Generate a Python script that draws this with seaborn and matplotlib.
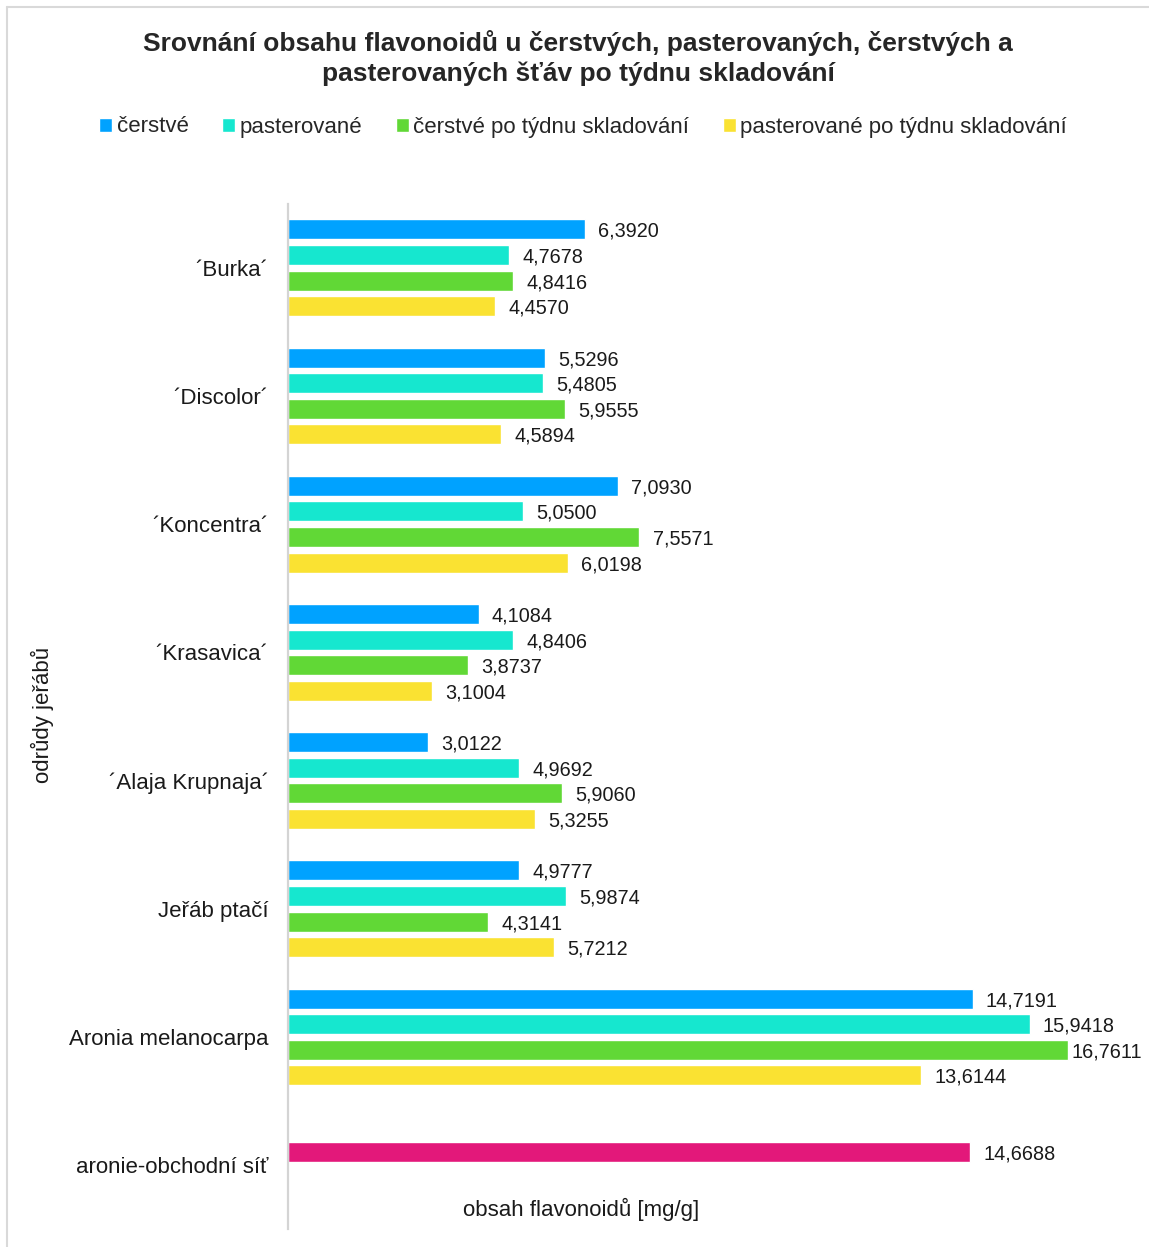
import seaborn as sns
import pandas as pd
import matplotlib.pyplot as plt
from matplotlib.lines import Line2D

# data
odrudy = ["´Burka´", "´Discolor´", "´Koncentra´", "´Krasavica´", "´Alaja Krupnaja´",
          "Jeřáb ptačí", "Aronia melanocarpa", "aronie-obchodní síť"]
serie = ["čerstvé", "pasterované", "čerstvé po týdnu skladování",
         "pasterované po týdnu skladování"]
cerstve = [6.3920, 5.5296, 7.0930, 4.1084, 3.0122, 4.9777, 14.7191]
pasterovane = [4.7678, 5.4805, 5.0500, 4.8406, 4.9692, 5.9874, 15.9418]
cerstve_tyden = [4.8416, 5.9555, 7.5571, 3.8737, 5.9060, 4.3141, 16.7611]
pasterovane_tyden = [4.4570, 4.5894, 6.0198, 3.1004, 5.3255, 5.7212, 13.6144]
obchod_sit = 14.6688

barvy = ["#00A2FF", "#16E7CF", "#61D836", "#FAE232"]
barva_sit = "#E3187A"

rows = []
for s, vals in zip(serie, [cerstve, pasterovane, cerstve_tyden, pasterovane_tyden]):
    for o, v in zip(odrudy[:7], vals):
        rows.append({"odruda": o, "serie": s, "hodnota": v})
# trzni vzorek sedi ve druhem slotu skupiny
rows.append({"odruda": odrudy[7], "serie": serie[1], "hodnota": obchod_sit})
df = pd.DataFrame(rows)

sns.set_theme(style="white")
plt.rcParams["font.family"] = ["Liberation Sans", "DejaVu Sans"]

W, H = 1149, 1247
fig = plt.figure(figsize=(W / 100, H / 100), dpi=100)
ax = fig.add_axes([287.5 / W, 1 - 1229.3 / H, (1125.5 - 287.5) / W, (1229.3 - 203.7) / H])

sns.barplot(data=df, y="odruda", x="hodnota", hue="serie", order=odrudy,
            hue_order=serie, palette=barvy, saturation=1, orient="h", width=0.8,
            gap=0.22, errorbar=None, ax=ax)

# magenta pro obchodni sit
for p in ax.containers[1].patches:
    if p.get_y() > 6.5:
        p.set_facecolor(barva_sit)

nejvetsi = max(cerstve_tyden)
for c in ax.containers:
    txts = ax.bar_label(c, labels=[f"{p.get_width():.4f}".replace(".", ",") for p in c.patches],
                        padding=9.5, fontsize=14.3, color="#1a1a1a")
    for t, p in zip(txts, c.patches):
        t.set_va("center_baseline")
        if p.get_width() == nejvetsi:
            # u nejdelsiho pruhu je popisek hned u konce
            t.set_position((2.5, 0))

ax.set_xlim(0, 18)
ax.set_xticks([])
ax.tick_params(axis="y", length=0, pad=13.5, labelsize=16, labelcolor="#1a1a1a")
for sp in ["top", "right", "bottom"]:
    ax.spines[sp].set_visible(False)
ax.spines["left"].set_color("#d4d4d4")
ax.spines["left"].set_linewidth(1.6)

ax.set_ylabel("")
ax.set_xlabel("obsah flavonoidů [mg/g]", fontsize=16, color="#1a1a1a")
ax.xaxis.set_label_coords(0.35, 0.031)
fig.text(42 / W, 1 - 715 / H, "odrůdy jeřábů", rotation=90, ha="center", va="center",
         fontsize=16, color="#1a1a1a")

handles, labels = ax.get_legend_handles_labels()
ax.get_legend().remove()
fig.legend(handles, labels, loc="center", bbox_to_anchor=(583 / W, 1 - 127 / H), ncol=4,
           frameon=False, fontsize=16, handlelength=0.6, handleheight=0.6,
           handletextpad=0.2, columnspacing=1.5, borderpad=0)

fig.text(578 / W, 1 - 58 / H,
         "Srovnání obsahu flavonoidů u čerstvých, pasterovaných, čerstvých a\n"
         "pasterovaných šťáv po týdnu skladování",
         ha="center", va="center", fontsize=19, fontweight="bold", linespacing=1.25)

# ramecek
fig.add_artist(Line2D([7 / W, 1], [1 - 7 / H, 1 - 7 / H], color="#d9d9d9", lw=1.5))
fig.add_artist(Line2D([7 / W, 7 / W], [0, 1 - 7 / H], color="#d9d9d9", lw=1.5))

fig.savefig("out.png", dpi=100)
